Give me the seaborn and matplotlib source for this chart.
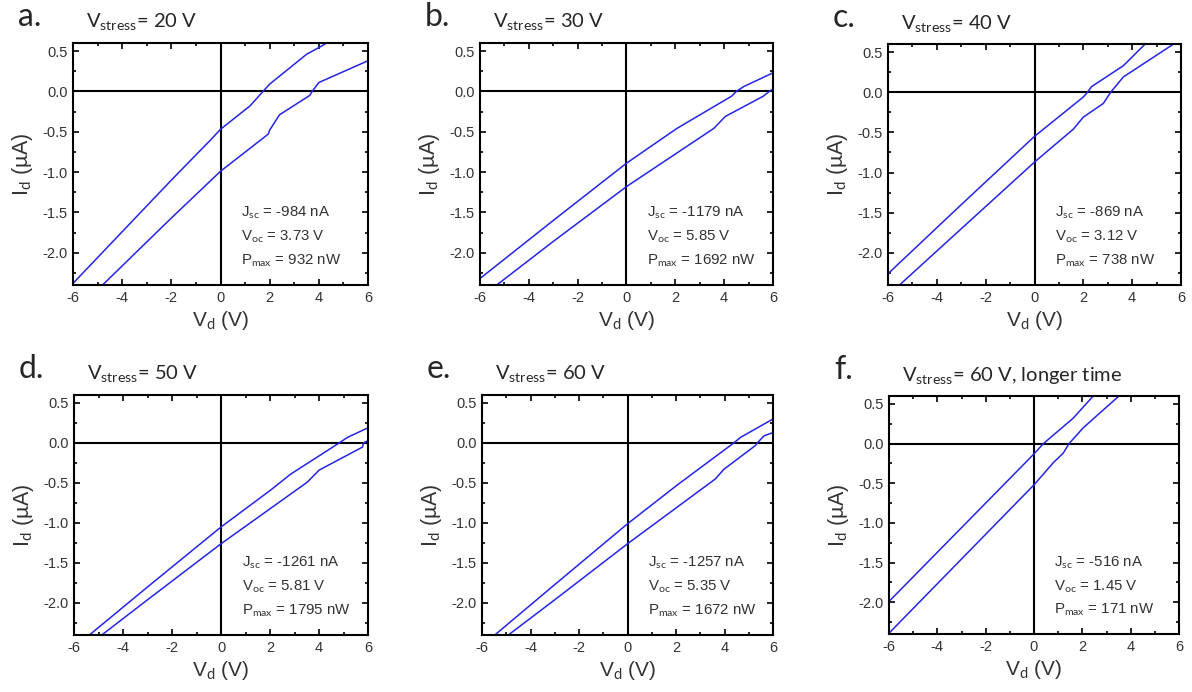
import numpy as np
import pandas as pd
import matplotlib
matplotlib.use("Agg")
import matplotlib.pyplot as plt
import seaborn as sns
from matplotlib.ticker import MultipleLocator, FuncFormatter

sns.set_style("ticks")
plt.rcParams["font.family"] = ["Liberation Sans", "DejaVu Sans"]
plt.rcParams["mathtext.fontset"] = "custom"
plt.rcParams["mathtext.rm"] = "Lato"
plt.rcParams["mathtext.it"] = "Lato:italic"

# ---- I-V sweeps (V in volts, I in microamps) ----
a_up_v = [-6.0, -4.0, -2.0, -0.43, 0.0, 1.2, 1.73, 2.0, 3.5, 4.04, 4.6]
a_up_i = [-2.38, -1.74, -1.10, -0.61, -0.47, -0.18, 0.0, 0.09, 0.46, 0.55, 0.65]
a_lo_v = [-5.0, -2.0, 0.0, 1.94, 2.0, 2.4, 3.63, 3.73, 4.0, 6.0]
a_lo_i = [-2.46, -1.57, -0.99, -0.53, -0.48, -0.29, -0.05, 0.0, 0.11, 0.38]

b_up_v = [-6.0, -3.0, 0.0, 2.06, 4.3, 4.5, 4.8, 6.0]
b_up_i = [-2.32, -1.60, -0.89, -0.46, -0.06, 0.0, 0.06, 0.23]
b_lo_v = [-5.4, -3.0, 0.0, 3.57, 4.05, 5.6, 5.85, 6.0]
b_lo_i = [-2.42, -1.86, -1.18, -0.46, -0.31, -0.06, 0.0, 0.03]

c_up_v = [-6.0, -3.0, 0.0, 2.0, 2.17, 2.34, 3.64, 4.7]
c_up_i = [-2.26, -1.40, -0.55, -0.06, 0.0, 0.07, 0.33, 0.65]
c_lo_v = [-5.6, -3.0, 0.0, 1.59, 2.0, 2.82, 3.12, 3.64, 5.8]
c_lo_i = [-2.42, -1.70, -0.87, -0.46, -0.31, -0.14, 0.0, 0.19, 0.62]

d_up_v = [-5.45, -3.0, 0.0, 2.02, 2.84, 4.82, 5.16, 6.0]
d_up_i = [-2.42, -1.80, -1.05, -0.59, -0.39, 0.0, 0.07, 0.19]
d_lo_v = [-4.95, -3.0, 0.0, 3.52, 4.0, 5.78, 5.81, 6.0]
d_lo_i = [-2.42, -1.96, -1.26, -0.49, -0.34, -0.05, 0.0, 0.03]

e_up_v = [-5.55, -3.0, 0.0, 2.03, 4.38, 4.66, 6.0]
e_up_i = [-2.42, -1.77, -1.01, -0.53, 0.0, 0.07, 0.30]
e_lo_v = [-5.0, -3.0, 0.0, 3.62, 3.97, 5.28, 5.35, 5.63, 6.0]
e_lo_i = [-2.42, -1.96, -1.26, -0.45, -0.33, -0.03, 0.0, 0.09, 0.13]

f_up_v = [-6.0, -3.0, 0.0, 0.39, 1.62, 2.6]
f_up_i = [-1.99, -1.06, -0.13, 0.0, 0.32, 0.65]
f_lo_v = [-6.0, -3.0, 0.0, 0.8, 1.21, 1.45, 2.04, 3.7]
f_lo_i = [-2.39, -1.455, -0.52, -0.24, -0.12, 0.0, 0.20, 0.65]

panel_labels = ["a.", "b.", "c.", "d.", "e.", "f."]
stress_titles = ["20 V", "30 V", "40 V", "50 V", "60 V", "60 V, longer time"]
jsc_values = ["-984", "-1179", "-869", "-1261", "-1257", "-516"]
voc_values = ["3.73", "5.85", "3.12", "5.81", "5.35", "1.45"]
pmax_values = ["932", "1692", "738", "1795", "1672", "171"]

sweeps = [
    (a_up_v, a_up_i, a_lo_v, a_lo_i),
    (b_up_v, b_up_i, b_lo_v, b_lo_i),
    (c_up_v, c_up_i, c_lo_v, c_lo_i),
    (d_up_v, d_up_i, d_lo_v, d_lo_i),
    (e_up_v, e_up_i, e_lo_v, e_lo_i),
    (f_up_v, f_up_i, f_lo_v, f_lo_i),
]

# axes rectangles in pixels: left, top, right, bottom
W, H = 1192, 692
boxes = [
    (73, 43, 368, 285),
    (480, 43, 773, 285),
    (888, 44, 1181, 285),
    (74, 395, 368, 635),
    (482, 395, 773, 635),
    (889, 396, 1179, 634),
]

blue = "#2424e6"
tick_color = "#333333"

fig = plt.figure(figsize=(W / 100, H / 100), dpi=100)

for k, (l, t, r, b) in enumerate(boxes):
    ax = fig.add_axes([l / W, 1 - b / H, (r - l) / W, (b - t) / H])
    up_v, up_i, lo_v, lo_i = sweeps[k]
    df = pd.concat([
        pd.DataFrame({"V": up_v, "I": up_i, "sweep": "up"}),
        pd.DataFrame({"V": lo_v, "I": lo_i, "sweep": "down"}),
    ], ignore_index=True)
    sns.lineplot(data=df, x="V", y="I", units="sweep", estimator=None,
                 sort=False, color=blue, linewidth=1.1, ax=ax, legend=False)
    ax.axhline(0, color="black", linewidth=1.5, zorder=1)
    ax.axvline(0, color="black", linewidth=1.5, zorder=1)

    ax.set_xlim(-6, 6)
    ax.set_ylim(-2.4, 0.6)
    ax.xaxis.set_major_locator(MultipleLocator(2))
    ax.xaxis.set_minor_locator(MultipleLocator(1))
    ax.yaxis.set_major_locator(MultipleLocator(0.5))
    ax.yaxis.set_minor_locator(MultipleLocator(0.25))
    ax.tick_params(which="both", direction="in", top=True, right=True,
                   width=1.2, color="black", labelcolor=tick_color,
                   labelsize=10.5)
    ax.tick_params(which="major", length=4, pad=4)
    ax.tick_params(which="minor", length=2.5)
    ax.xaxis.set_major_formatter(FuncFormatter(lambda v, p: f"{v:.0f}"))
    ax.yaxis.set_major_formatter(FuncFormatter(lambda v, p: f"{v:.1f}"))
    for s in ax.spines.values():
        s.set_linewidth(1.5)
        s.set_color("black")

    ax.set_xlabel(r"V$_{\rm d}$ (V)", fontsize=15, color=tick_color, labelpad=3)
    ax.set_ylabel(r"I$_{\rm d}$ ($\mathrm{\mu}$A)", fontsize=15.5, color=tick_color, labelpad=5)

    ax.text(0.57, 0.30, r"J$_{\rm sc}$ = " + jsc_values[k] + " nA",
            transform=ax.transAxes, fontsize=10.8, color=tick_color, va="center")
    ax.text(0.57, 0.20, r"V$_{\rm oc}$ = " + voc_values[k] + " V",
            transform=ax.transAxes, fontsize=10.8, color=tick_color, va="center")
    ax.text(0.57, 0.10, r"P$_{\rm max}$ = " + pmax_values[k] + " nW",
            transform=ax.transAxes, fontsize=10.8, color=tick_color, va="center")

    # panel letter and stress condition above each axes
    fig.text((l - 55) / W, 1 - (t - 26) / H, panel_labels[k], fontsize=23,
             family=["Lato", "DejaVu Sans"], va="center", ha="left")
    fig.text((l + 13) / W, 1 - (t - 21) / H,
             r"V$_{\rm stress}$= " + stress_titles[k], fontsize=14.5,
             family=["Lato", "DejaVu Sans"], va="center", ha="left")

fig.savefig("out.png", dpi=100)
